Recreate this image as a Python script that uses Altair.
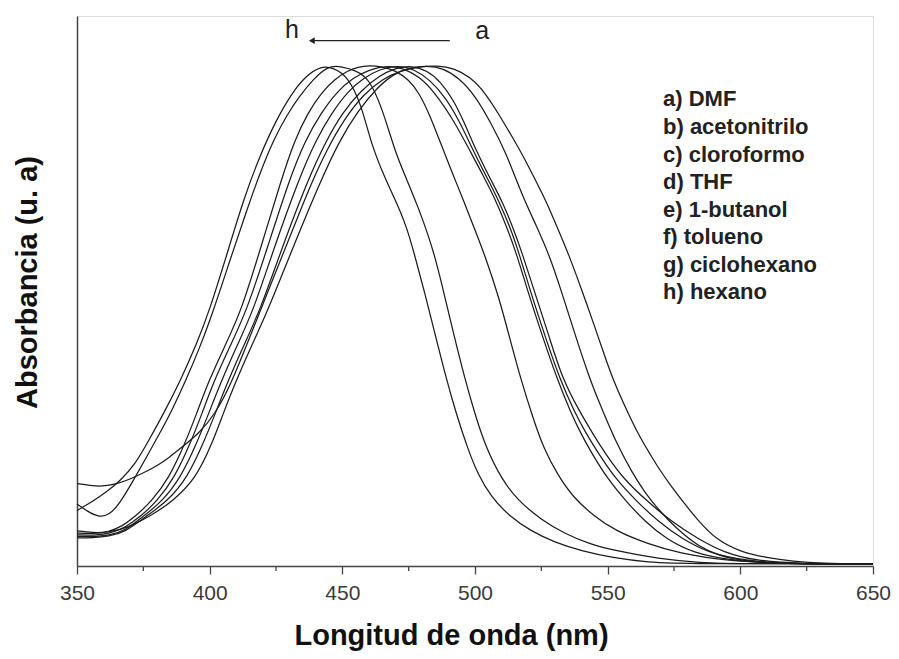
import altair as alt
import pandas as pd

# ---- data (wavelength nm, normalised absorbance) ----
wl_h = [350,356,362,366,372,377,383,389,395,400,407,413,419,425,431,436,442,447,452,457,461,466,470,474,477,481,485,489,493,497,501,506,513,521,530,540,552,565,580,650]
ab_h = [0.107,0.125,0.148,0.165,0.200,0.247,0.305,0.368,0.44,0.509,0.63,0.735,0.82,0.89,0.945,0.978,1.0,0.995,0.978,0.925,0.84,0.775,0.73,0.68,0.625,0.545,0.46,0.375,0.30,0.235,0.18,0.135,0.095,0.066,0.043,0.026,0.012,0.003,0.0,0.0]

wl_g = [350,354,358,362,366,371,376,381,386,391,396,401.5,408,414,419,424,429,434,439,444.5,450,455,460,465,470,474,479,482,485,488,492,496,500,504,510,516,525,534,543,553,569,585,600,650]
ab_g = [0.12,0.105,0.094,0.097,0.12,0.165,0.212,0.26,0.31,0.368,0.43,0.509,0.615,0.71,0.785,0.85,0.90,0.94,0.972,1.0,0.998,0.99,0.975,0.915,0.825,0.775,0.71,0.665,0.615,0.55,0.46,0.375,0.30,0.235,0.17,0.128,0.088,0.06,0.04,0.026,0.01,0.002,0.0,0.0]

wl_f = [350,356,362,367,372,378,384.7,390.6,395,399.7,406,412,419,427,432,437,442,447,452,456,460,465,470,475,479,483,487,491,496,500,504,509,513,517,522,526,531,537,545,553,565,578,590,605,620,650]
ab_f = [0.062,0.060,0.064,0.075,0.095,0.125,0.172,0.24,0.30,0.368,0.44,0.509,0.63,0.771,0.85,0.905,0.945,0.972,0.99,0.997,1.0,0.998,0.99,0.972,0.945,0.90,0.845,0.79,0.725,0.67,0.615,0.535,0.455,0.375,0.29,0.23,0.18,0.133,0.095,0.066,0.04,0.02,0.01,0.003,0.0,0.0]

wl_e = [350,356,362,368,374,380,386.7,392.6,397,401.7,408,414,421.5,430,436,442,448,454,460,467,473,479,485,492,498.5,503,508,512,515.5,520,525.5,531,536,540,544,550,557,564,572,582,597,615,650]
ab_e = [0.058,0.057,0.06,0.072,0.095,0.125,0.172,0.24,0.30,0.368,0.44,0.509,0.63,0.771,0.85,0.905,0.948,0.975,0.992,1.0,0.995,0.978,0.945,0.89,0.825,0.78,0.728,0.675,0.625,0.545,0.455,0.37,0.305,0.26,0.222,0.17,0.125,0.085,0.05,0.022,0.006,0.0,0.0]

wl_d = [350,356,362,368,375,382,389,395,399.5,404.5,410.5,416.5,424,433.5,440,446,452,458,464,471,477,483,489,494,499.7,505,509,513.5,516.5,521,526.5,532,537.5,542,546.5,553,561,569,578,588,602,618,650]
ab_d = [0.055,0.054,0.057,0.066,0.095,0.125,0.172,0.24,0.30,0.368,0.44,0.509,0.63,0.771,0.85,0.905,0.948,0.975,0.993,1.0,0.993,0.972,0.935,0.89,0.825,0.77,0.728,0.672,0.625,0.545,0.455,0.37,0.305,0.26,0.222,0.17,0.125,0.085,0.05,0.022,0.006,0.0,0.0]

wl_c = [350,356,362,368,376,384,391.5,397.5,402,407,413,419,427,437,444,450,457,464,470,476,482,487,492,496,500.8,506,510.5,514.5,517.7,522.5,528,533,539.5,544.5,549,556,565,574,584,594,606,622,650]
ab_c = [0.052,0.052,0.055,0.063,0.095,0.125,0.172,0.24,0.30,0.368,0.44,0.509,0.63,0.771,0.85,0.905,0.95,0.98,0.995,1.0,0.99,0.968,0.93,0.885,0.825,0.77,0.725,0.672,0.625,0.545,0.455,0.37,0.305,0.26,0.222,0.17,0.125,0.085,0.05,0.022,0.006,0.0,0.0]

wl_b = [350,356,362,369,378,386,394.9,400.8,405,410,416,422,431,442,449,456,463,469,475,482,488,494,500,506,511.7,517.7,523,528,533,538,543,546.7,553,559,564,569.4,576,584.4,592,600.6,615,650]
ab_b = [0.066,0.062,0.063,0.072,0.097,0.125,0.172,0.24,0.30,0.368,0.44,0.509,0.63,0.771,0.85,0.91,0.955,0.982,0.996,1.0,0.995,0.975,0.94,0.885,0.825,0.74,0.68,0.62,0.54,0.455,0.375,0.325,0.245,0.185,0.143,0.107,0.07,0.034,0.016,0.006,0.0,0.0]

wl_a = [350,355,359.4,365,370,374.5,380,384.7,390,396,402,408,414,420,426,432,438,444,451,458,465,472,479,486,492,498,504,510,514,518.5,522.5,526.8,531,535.4,540,545,549,552,557,562,566,569.4,574,578,584,591,600,610,620,630,650]
ab_a = [0.161,0.157,0.155,0.16,0.17,0.181,0.196,0.213,0.236,0.262,0.30,0.36,0.44,0.52,0.60,0.68,0.76,0.83,0.895,0.942,0.973,0.99,0.998,1.0,0.995,0.978,0.945,0.893,0.857,0.815,0.773,0.728,0.675,0.62,0.553,0.478,0.415,0.37,0.31,0.255,0.22,0.19,0.155,0.127,0.087,0.048,0.024,0.012,0.005,0.001,0.0]

curve_keys = ["a", "b", "c", "d", "e", "f", "g", "h"]
legend_labels = ["a) DMF", "b) acetonitrilo", "c) cloroformo", "d) THF",
                 "e) 1-butanol", "f) tolueno", "g) ciclohexano", "h) hexano"]
x_ticks = [350, 400, 450, 500, 550, 600, 650]
x_minor = [375, 425, 475, 525, 575, 625]

series = {"a": (wl_a, ab_a), "b": (wl_b, ab_b), "c": (wl_c, ab_c), "d": (wl_d, ab_d),
          "e": (wl_e, ab_e), "f": (wl_f, ab_f), "g": (wl_g, ab_g), "h": (wl_h, ab_h)}

rows = []
for k in curve_keys:
    wl, ab = series[k]
    for i, (w, v) in enumerate(zip(wl, ab)):
        rows.append({"curve": k, "wl": w, "abs": v, "order": i})
df = pd.DataFrame(rows)

FONT = "Liberation Sans"
x_scale = alt.Scale(domain=[350, 650], nice=False, zero=False)
y_scale = alt.Scale(domain=[-0.0045, 1.0995], nice=False, zero=False)

x_axis = alt.Axis(values=x_ticks, title="Longitud de onda (nm)", grid=False,
                  tickSize=8, tickColor="#444", tickWidth=1.3,
                  domainColor="#444", domainWidth=1.5,
                  labelFont=FONT, labelFontSize=21, labelColor="#3a3a3a", labelPadding=8,
                  labelFlush=False,
                  titleFont=FONT, titleFontSize=29, titleFontWeight="bold",
                  titleColor="#111", titlePadding=18, titleX=374)
y_axis = alt.Axis(title="Absorbancia (u. a)", labels=False, ticks=False, grid=False,
                  domainColor="#444", domainWidth=1.5,
                  titleFont=FONT, titleFontSize=29, titleFontWeight="bold",
                  titleColor="#111", titlePadding=35, titleY=266)

lines = alt.Chart(df).mark_line(color="#1c1c1c", strokeWidth=1.25, interpolate="basis").encode(
    x=alt.X("wl:Q", scale=x_scale, axis=x_axis),
    y=alt.Y("abs:Q", scale=y_scale, axis=y_axis),
    detail="curve:N",
    order="order:Q",
)

minor = alt.Chart(pd.DataFrame({"m": x_minor})).mark_rule(color="#444", strokeWidth=1.3).encode(
    x=alt.X("m:Q", scale=x_scale),
    y=alt.value(550), y2=alt.value(555),
)

# arrow h <- a
arrow_df = pd.DataFrame({"x1": [438.5], "x2": [490.5], "y": [1.05]})
arrow_line = alt.Chart(arrow_df).mark_rule(color="#222", strokeWidth=1.3).encode(
    x=alt.X("x1:Q", scale=x_scale), x2="x2:Q", y=alt.Y("y:Q", scale=y_scale))
arrow_head = alt.Chart(arrow_df).mark_point(shape="triangle-left", filled=True, color="#222",
                                            size=45, opacity=1).encode(
    x=alt.X("x1:Q", scale=x_scale), y=alt.Y("y:Q", scale=y_scale))
ends_df = pd.DataFrame({"t": ["h", "a"], "x": [431.0, 502.7], "y": [1.071, 1.069]})
ends = alt.Chart(ends_df).mark_text(font=FONT, fontSize=25, color="#222", baseline="middle").encode(
    x=alt.X("x:Q", scale=x_scale), y=alt.Y("y:Q", scale=y_scale), text="t:N")

leg_df = pd.DataFrame({"t": legend_labels,
                       "y": [0.932 - i * 0.0553 for i in range(len(legend_labels))]})
legend = alt.Chart(leg_df).mark_text(font=FONT, fontSize=22, fontWeight="bold", color="#222",
                                     align="left", baseline="middle").encode(
    x=alt.value(586), y=alt.Y("y:Q", scale=y_scale), text="t:N")

chart = alt.layer(lines, minor, arrow_line, arrow_head, ends, legend).properties(
    width=796, height=550,
    autosize=alt.AutoSizeParams(type="none"),
    padding={"left": 69, "top": 8, "right": 18, "bottom": 85},
).configure_view(stroke="#444", strokeWidth=1.5).configure(background="white")

chart.save("out.html", embed_options={"renderer": "svg", "actions": False})
